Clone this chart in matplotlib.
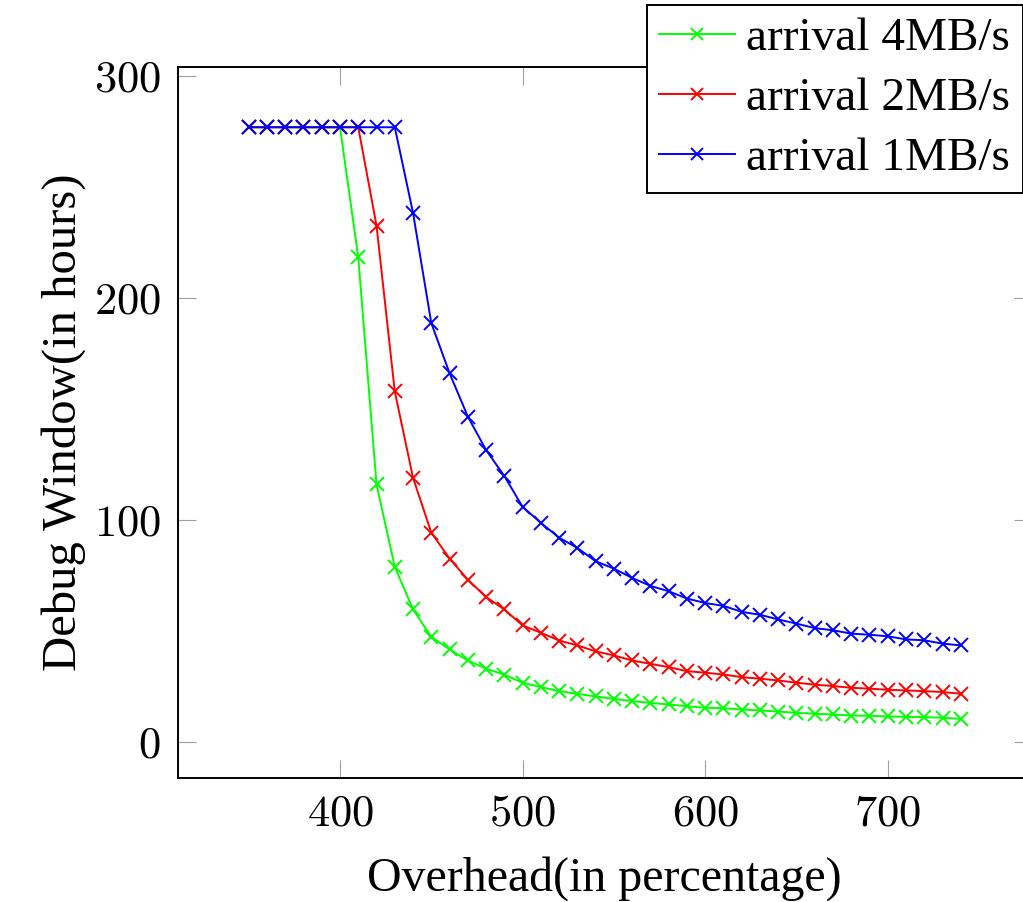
import matplotlib
matplotlib.use("Agg")
import matplotlib.pyplot as plt
from matplotlib.ticker import FuncFormatter

plt.rcParams['font.family'] = ['Liberation Serif', 'DejaVu Serif']
plt.rcParams['mathtext.fontset'] = 'cm'

overhead = list(range(350, 750, 10))

green_4mb = [277, 277, 277, 277, 277, 277, 218.4, 116.1, 79.0, 59.8,
             47.4, 41.8, 36.8, 33.1, 30.4, 26.8, 24.8, 23.0, 21.8, 20.6,
             19.5, 18.5, 17.7, 17.0, 16.2, 15.5, 15.3, 14.7, 14.3, 13.8,
             13.2, 12.8, 12.5, 12.0, 11.9, 11.6, 11.4, 11.3, 11.0, 10.5]
red_2mb = [277, 277, 277, 277, 277, 277, 277, 232.7, 158.0, 119.1,
           94.4, 82.7, 73.2, 65.4, 59.8, 52.6, 49.3, 45.8, 43.6, 40.9,
           39.1, 36.8, 35.3, 33.8, 32.0, 31.3, 30.5, 29.3, 28.6, 27.8,
           26.8, 25.9, 25.3, 24.5, 24.1, 23.6, 23.3, 23.0, 22.6, 21.8]
blue_1mb = [277, 277, 277, 277, 277, 277, 277, 277, 277, 238.4,
            188.8, 166.2, 146.7, 131.6, 119.9, 106.0, 98.8, 92.1, 87.5, 81.5,
            78.2, 74.0, 70.4, 68.0, 64.7, 62.7, 61.4, 58.7, 57.4, 55.3,
            53.4, 51.4, 50.4, 48.9, 48.4, 47.7, 46.3, 45.9, 44.4, 43.6]

series = [
    ("arrival 4MB/s", green_4mb, "#00ff00"),
    ("arrival 2MB/s", red_2mb, "#ff0000"),
    ("arrival 1MB/s", blue_1mb, "#0000ff"),
]

x_ticks = [400, 500, 600, 700]
y_ticks = [0, 100, 200, 300]

W, H = 1023, 902
fig = plt.figure(figsize=(W / 100, H / 100), dpi=100)
left, right, bottom, top = 177.5, 1032, 777.7, 67.3
ax = fig.add_axes([left / W, 1 - bottom / H, (right - left) / W, (bottom - top) / H])

for label, vals, color in series:
    ax.plot(overhead, vals, color=color, lw=1.4, marker='x', ms=10, mew=1.4,
            label=label)

ax.set_xlim(311, 779)
ax.set_ylim(-16, 304)
ax.set_xticks(x_ticks)
ax.set_yticks(y_ticks)
fmt = FuncFormatter(lambda v, p: r'$%d$' % v)
ax.xaxis.set_major_formatter(fmt)
ax.yaxis.set_major_formatter(fmt)
ax.tick_params(direction='in', length=13, width=0.8, color='#a0a0a0',
               top=True, right=True, labelsize=32, pad=12)
for s in ax.spines.values():
    s.set_linewidth(1.4)
    s.set_color('black')

ax.set_xlabel('Overhead(in percentage)', fontsize=34.5, labelpad=16)
ax.set_ylabel('Debug Window(in hours)', fontsize=35, labelpad=6)

leg = ax.legend(loc='upper right', bbox_to_anchor=(1022.7 / W, 1 - 5 / H),
                bbox_transform=fig.transFigure, borderaxespad=0,
                fontsize=34, handlelength=1.6, handletextpad=0.25,
                labelspacing=0.36, borderpad=0.26, fancybox=False,
                framealpha=1, edgecolor='black', markerscale=0.8)
leg.get_frame().set_linewidth(1.4)

fig.savefig('out.png', dpi=100)
